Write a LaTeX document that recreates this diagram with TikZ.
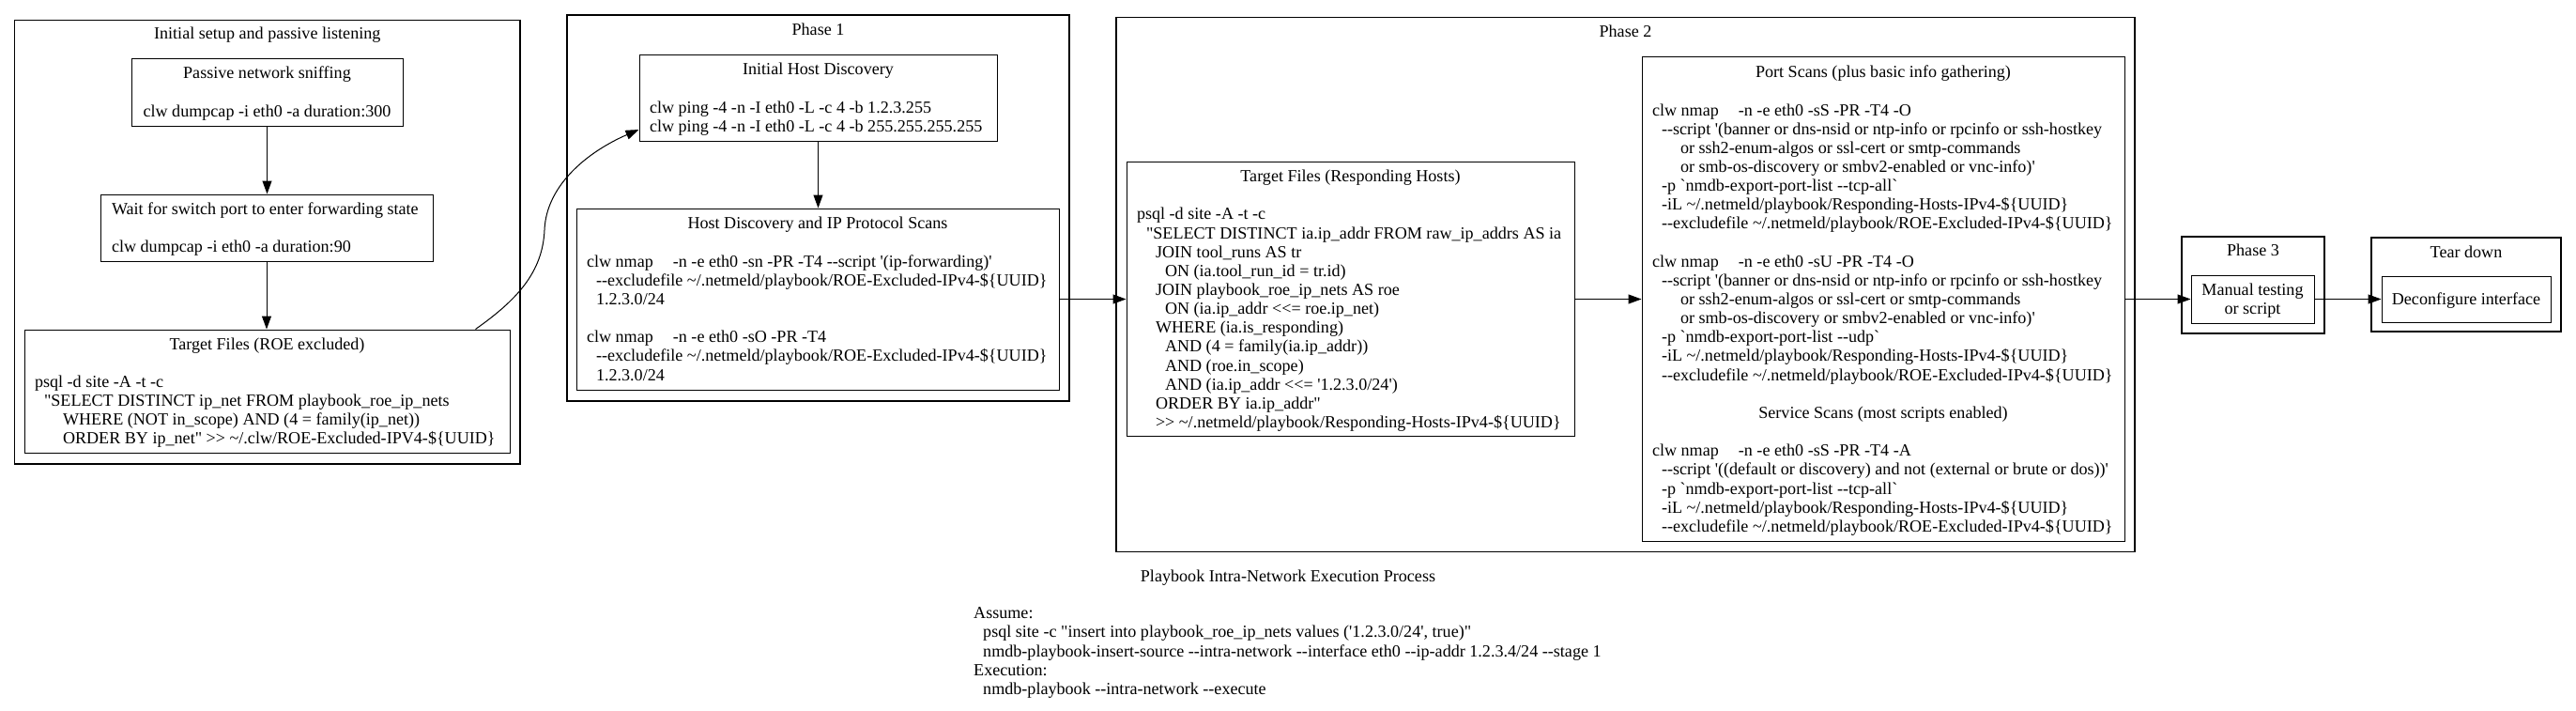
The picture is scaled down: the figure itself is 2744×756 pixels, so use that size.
\documentclass[tikz,border=0pt]{standalone}
\usepackage{fontspec}
\newfontfamily\gv{Liberation Serif}
\usetikzlibrary{arrows.meta}
\newdimen\bw
\newdimen\sw \sw=5pt
\def\St{\vrule height 16.1pt depth 4.05pt width 0pt\relax}
\newcommand\Lc[1]{\hbox to \bw{\hss\St#1\hss}}
\newcommand\Ll[2][0]{\hbox to \bw{\St\kern#1\sw#2\hss}}
\newcommand\Lb{\hbox to \bw{\St\hss}}
\newcommand\Bx[2]{\vbox{\offinterlineskip\bw=#1pt\relax#2}}
\newcommand\gvfont{\gv\fontsize{18.1pt}{20.15pt}\selectfont}
\tikzset{
  box/.style={draw, line width=1pt, rectangle, inner sep=0pt, font=\gvfont},
  clus/.style={draw, line width=1.1pt, rectangle, inner sep=0pt},
  ttl/.style={inner sep=0pt, font=\gvfont},
  arr/.style={line width=1pt, -{Triangle[length=14pt,width=10pt]}},
}
\begin{document}
\begin{tikzpicture}[x=1pt,y=-1pt]
\fill[white] (0,0) rectangle (2744,756);
\path[use as bounding box] (0,0) rectangle (2744,756);

% clusters
\node[clus, minimum width=538.5pt, minimum height=472.5pt] (c0) at (284.75,257.75) {};
\node[ttl] (c0t) at (284.75,35) {\St Initial setup and passive listening};
\node[clus, minimum width=535pt, minimum height=411pt] (c1) at (871.5,221.5) {};
\node[ttl] (c1t) at (871.5,31) {\St Phase 1};
\node[clus, minimum width=1085pt, minimum height=569pt] (c2) at (1731.5,303) {};
\node[ttl] (c2t) at (1731.5,33) {\St Phase 2};
\node[clus, minimum width=152pt, minimum height=103pt] (c3) at (2400,303.5) {};
\node[ttl] (c3t) at (2400,266) {\St Phase 3};
\node[clus, minimum width=202pt, minimum height=100pt] (c4) at (2627,303) {};
\node[ttl] (c4t) at (2627,268) {\St Tear down};

% nodes
\node[box, minimum width=289pt, minimum height=72pt] (n1) at (284.5,98) {\Bx{289}{%
\Lc{Passive network sniffing}
\Lb
\Lc{clw dumpcap -i eth0 -a duration:300}}};

\node[box, minimum width=354pt, minimum height=71pt] (n2) at (284,242.5) {\Bx{330}{%
\Ll{Wait for switch port to enter forwarding state}
\Lb
\Ll{clw dumpcap -i eth0 -a duration:90}}};

\node[box, minimum width=517pt, minimum height=131pt] (n3) at (284.5,416.5) {\Bx{495}{%
\Lc{Target Files (ROE excluded)}
\Lb
\Ll{psql -d site -A -t -c}
\Ll[2]{"SELECT DISTINCT ip\_net FROM playbook\_roe\_ip\_nets}
\Ll[6]{WHERE (NOT in\_scope) AND (4 = family(ip\_net))}
\Ll[6]{ORDER BY ip\_net" >> \textasciitilde/.clw/ROE-Excluded-IPV4-\$\{UUID\}}}};

\node[box, minimum width=381pt, minimum height=92pt] (n4) at (871.5,104) {\Bx{359}{%
\Lc{Initial Host Discovery}
\Lb
\Ll{clw ping -4 -n -I eth0 -L -c 4 -b 1.2.3.255}
\Ll{clw ping -4 -n -I eth0 -L -c 4 -b 255.255.255.255}}};

\node[box, minimum width=514pt, minimum height=193pt] (n5) at (871,318.5) {\Bx{492}{%
\Lc{Host Discovery and IP Protocol Scans}
\Lb
\Ll{clw nmap\kern21pt -n -e eth0 -sn -PR -T4 --script '(ip-forwarding)'}
\Ll[2]{--excludefile \textasciitilde/.netmeld/playbook/ROE-Excluded-IPv4-\$\{UUID\}}
\Ll[2]{1.2.3.0/24}
\Lb
\Ll{clw nmap\kern21pt -n -e eth0 -sO -PR -T4}
\Ll[2]{--excludefile \textasciitilde/.netmeld/playbook/ROE-Excluded-IPv4-\$\{UUID\}}
\Ll[2]{1.2.3.0/24}}};

\node[box, minimum width=477pt, minimum height=292pt] (n6) at (1438.5,318.5) {\Bx{455}{%
\Lc{Target Files (Responding Hosts)}
\Lb
\Ll{psql -d site -A -t -c}
\Ll[2]{"SELECT DISTINCT ia.ip\_addr FROM raw\_ip\_addrs AS ia}
\Ll[4]{JOIN tool\_runs AS tr}
\Ll[6]{ON (ia.tool\_run\_id = tr.id)}
\Ll[4]{JOIN playbook\_roe\_ip\_nets AS roe}
\Ll[6]{ON (ia.ip\_addr <<= roe.ip\_net)}
\Ll[4]{WHERE (ia.is\_responding)}
\Ll[6]{AND (4 = family(ia.ip\_addr))}
\Ll[6]{AND (roe.in\_scope)}
\Ll[6]{AND (ia.ip\_addr <<= '1.2.3.0/24')}
\Ll[4]{ORDER BY ia.ip\_addr"}
\Ll[4]{>> \textasciitilde/.netmeld/playbook/Responding-Hosts-IPv4-\$\{UUID\}}}};

\node[box, minimum width=514pt, minimum height=516pt] (n7) at (2006,318.5) {\Bx{492}{%
\Lc{Port Scans (plus basic info gathering)}
\Lb
\Ll{clw nmap\kern21pt -n -e eth0 -sS -PR -T4 -O}
\Ll[2]{--script '(banner or dns-nsid or ntp-info or rpcinfo or ssh-hostkey}
\Ll[6]{or ssh2-enum-algos or ssl-cert or smtp-commands}
\Ll[6]{or smb-os-discovery or smbv2-enabled or vnc-info)'}
\Ll[2]{-p `nmdb-export-port-list --tcp-all`}
\Ll[2]{-iL \textasciitilde/.netmeld/playbook/Responding-Hosts-IPv4-\$\{UUID\}}
\Ll[2]{--excludefile \textasciitilde/.netmeld/playbook/ROE-Excluded-IPv4-\$\{UUID\}}
\Lb
\Ll{clw nmap\kern21pt -n -e eth0 -sU -PR -T4 -O}
\Ll[2]{--script '(banner or dns-nsid or ntp-info or rpcinfo or ssh-hostkey}
\Ll[6]{or ssh2-enum-algos or ssl-cert or smtp-commands}
\Ll[6]{or smb-os-discovery or smbv2-enabled or vnc-info)'}
\Ll[2]{-p `nmdb-export-port-list --udp`}
\Ll[2]{-iL \textasciitilde/.netmeld/playbook/Responding-Hosts-IPv4-\$\{UUID\}}
\Ll[2]{--excludefile \textasciitilde/.netmeld/playbook/ROE-Excluded-IPv4-\$\{UUID\}}
\Lb
\Lc{Service Scans (most scripts enabled)}
\Lb
\Ll{clw nmap\kern21pt -n -e eth0 -sS -PR -T4 -A}
\Ll[2]{--script '((default or discovery) and not (external or brute or dos))'}
\Ll[2]{-p `nmdb-export-port-list --tcp-all`}
\Ll[2]{-iL \textasciitilde/.netmeld/playbook/Responding-Hosts-IPv4-\$\{UUID\}}
\Ll[2]{--excludefile \textasciitilde/.netmeld/playbook/ROE-Excluded-IPv4-\$\{UUID\}}}};

\node[box, minimum width=131pt, minimum height=51pt] (n8) at (2399.5,318.5) {\Bx{131}{%
\Lc{Manual testing}
\Lc{or script}}};

\node[box, minimum width=180pt, minimum height=49pt] (n9) at (2627,318.5) {\Bx{180}{%
\Lc{Deconfigure interface}}};

% caption and notes
\node[ttl] (cap) at (1372,613) {\St Playbook Intra-Network Execution Process};
\node[ttl, anchor=west] (notes) at (1037,693) {\Bx{700}{%
\Ll{Assume:}
\Ll[2]{psql site -c "insert into playbook\_roe\_ip\_nets values ('1.2.3.0/24', true)"}
\Ll[2]{nmdb-playbook-insert-source --intra-network --interface eth0 --ip-addr 1.2.3.4/24 --stage 1}
\Ll{Execution:}
\Ll[2]{nmdb-playbook --intra-network --execute}}};

% edges
\coordinate (m3) at (580,245);
\draw[arr] (n1.south) -- (n1.south |- n2.north);
\draw[arr] (n2.south) -- (n2.south |- n3.north);
\draw[arr] ([xshift=-37pt]n3.north east) .. controls +(44,-31) and +(-2,45) .. (m3)
  .. controls +(2,-50) and +(-51,22) .. ([yshift=-34pt]n4.west);
\draw[arr] (n4.south) -- (n4.south |- n5.north);
\draw[arr] (n5.east) -- (n6.west);
\draw[arr] (n6.east) -- (n7.west);
\draw[arr] (n7.east) -- (n8.west);
\draw[arr] (n8.east) -- (n9.west);
\end{tikzpicture}
\end{document}
